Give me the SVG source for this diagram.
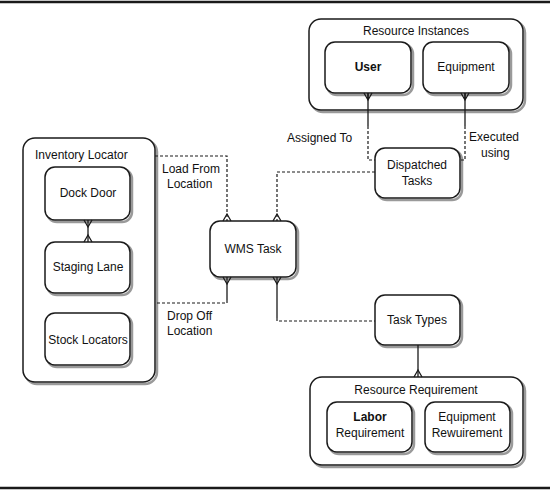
<svg xmlns="http://www.w3.org/2000/svg" width="550" height="490" viewBox="0 0 550 490">
<defs>
<style>
.sh{fill:none;stroke:#9a9a9a;stroke-width:2.5}
.bx{fill:#fff;stroke:#1a1a1a;stroke-width:1.5}
.t{font-family:"Liberation Sans",Arial,sans-serif;font-size:12px;fill:#111;text-anchor:middle}
.ts{font-family:"Liberation Sans",Arial,sans-serif;font-size:12px;fill:#111}
.b{font-weight:bold}
.sol{fill:none;stroke:#1a1a1a;stroke-width:1.3}
.dsh{fill:none;stroke:#1a1a1a;stroke-width:1.2;stroke-dasharray:3 2}
.cf{fill:none;stroke:#1a1a1a;stroke-width:1.3}
</style>
</defs>
<rect width="550" height="490" fill="#fff"/>
<line x1="0" y1="2" x2="550" y2="2" stroke="#1a1a1a" stroke-width="2.5"/>
<line x1="0" y1="488" x2="550" y2="488" stroke="#1a1a1a" stroke-width="2.5"/>

<g id="resource-instances">
<rect class="sh" x="311" y="21" width="214" height="91" rx="12"/>
<rect class="bx" x="309" y="19" width="214" height="91" rx="12"/>
<text class="t" x="416" y="35">Resource Instances</text>
</g>
<g id="user">
<rect class="sh" x="327" y="44" width="86" height="51" rx="10"/>
<rect class="bx" x="325" y="42" width="86" height="51" rx="10"/>
<text class="t b" x="368" y="71">User</text>
</g>
<g id="equipment">
<rect class="sh" x="425" y="44" width="86" height="51" rx="10"/>
<rect class="bx" x="423" y="42" width="86" height="51" rx="10"/>
<text class="t" x="466" y="71">Equipment</text>
</g>
<g id="dispatched-tasks">
<rect class="sh" x="377" y="150" width="85" height="50" rx="10"/>
<rect class="bx" x="375" y="148" width="85" height="50" rx="10"/>
<text class="t" x="417" y="169">Dispatched</text>
<text class="t" x="417" y="185">Tasks</text>
</g>
<g id="wms-task">
<rect class="sh" x="212" y="223" width="86" height="56" rx="10"/>
<rect class="bx" x="210" y="221" width="86" height="56" rx="10"/>
<text class="t" x="253" y="253">WMS Task</text>
</g>
<g id="inventory-locator">
<rect class="sh" x="25" y="140" width="132" height="244" rx="12"/>
<rect class="bx" x="23" y="138" width="132" height="244" rx="12"/>
<text class="ts" x="35" y="159">Inventory Locator</text>
</g>
<g id="dock-door">
<rect class="sh" x="47" y="169" width="85" height="53" rx="10"/>
<rect class="bx" x="45" y="167" width="85" height="53" rx="10"/>
<text class="t" x="88" y="197">Dock Door</text>
</g>
<g id="staging-lane">
<rect class="sh" x="47" y="244" width="85" height="51" rx="10"/>
<rect class="bx" x="45" y="242" width="85" height="51" rx="10"/>
<text class="t" x="88" y="271">Staging Lane</text>
</g>
<g id="stock-locators">
<rect class="sh" x="47" y="315" width="85" height="52" rx="10"/>
<rect class="bx" x="45" y="313" width="85" height="52" rx="10"/>
<text class="t" x="88" y="344">Stock Locators</text>
</g>
<g id="task-types">
<rect class="sh" x="377" y="297" width="85" height="50" rx="10"/>
<rect class="bx" x="375" y="295" width="85" height="50" rx="10"/>
<text class="t" x="417" y="324">Task Types</text>
</g>
<g id="resource-requirement">
<rect class="sh" x="312" y="379" width="213" height="88" rx="12"/>
<rect class="bx" x="310" y="377" width="213" height="88" rx="12"/>
<text class="t" x="416" y="394">Resource Requirement</text>
</g>
<g id="labor-requirement">
<rect class="sh" x="329" y="404" width="85" height="50" rx="10"/>
<rect class="bx" x="327" y="402" width="85" height="50" rx="10"/>
<text class="t b" x="370" y="421">Labor</text>
<text class="t" x="370" y="437">Requirement</text>
</g>
<g id="equipment-requirement">
<rect class="sh" x="427" y="404" width="85" height="50" rx="10"/>
<rect class="bx" x="425" y="402" width="85" height="50" rx="10"/>
<text class="t" x="467" y="421">Equipment</text>
<text class="t" x="467" y="437">Rewuirement</text>
</g>

<g id="connectors">
<path class="sol" d="M368 93 V126"/>
<path class="dsh" d="M368 126 V160 H375"/>
<path class="sol" d="M465 93 V126"/>
<path class="dsh" d="M465 126 V160 H460"/>
<path class="dsh" d="M155 156 H227 V221"/>
<path class="dsh" d="M375 172 H277 V221"/>
<path class="sol" d="M227 277 V300"/>
<path class="dsh" d="M227 300 V303 H155"/>
<path class="sol" d="M277 277 V318"/>
<path class="dsh" d="M277 318 V321 H375"/>
<path class="sol" d="M418 345 V377"/>
<path class="sol" d="M88 220 V242"/>
<path class="cf" d="M364 93 L368 100 L372 93 M368 93 V100"/>
<path class="cf" d="M461 93 L465 100 L469 93 M465 93 V100"/>
<path class="cf" d="M223 221 L227 214 L231 221"/>
<path class="cf" d="M273 221 L277 214 L281 221"/>
<path class="cf" d="M223 277 L227 284 L231 277"/>
<path class="cf" d="M273 277 L277 284 L281 277"/>
<path class="cf" d="M414 377 L418 370 L422 377"/>
<path class="cf" d="M84 220 L88 227 L92 220"/>
<path class="cf" d="M84 242 L88 235 L92 242"/>
</g>

<g id="labels">
<text class="ts" x="287" y="142">Assigned To</text>
<text class="ts" x="469" y="141">Executed</text>
<text class="ts" x="481" y="157">using</text>
<text class="ts" x="162" y="173">Load From</text>
<text class="ts" x="167" y="188">Location</text>
<text class="ts" x="167" y="320">Drop Off</text>
<text class="ts" x="167" y="335">Location</text>
</g>
</svg>
